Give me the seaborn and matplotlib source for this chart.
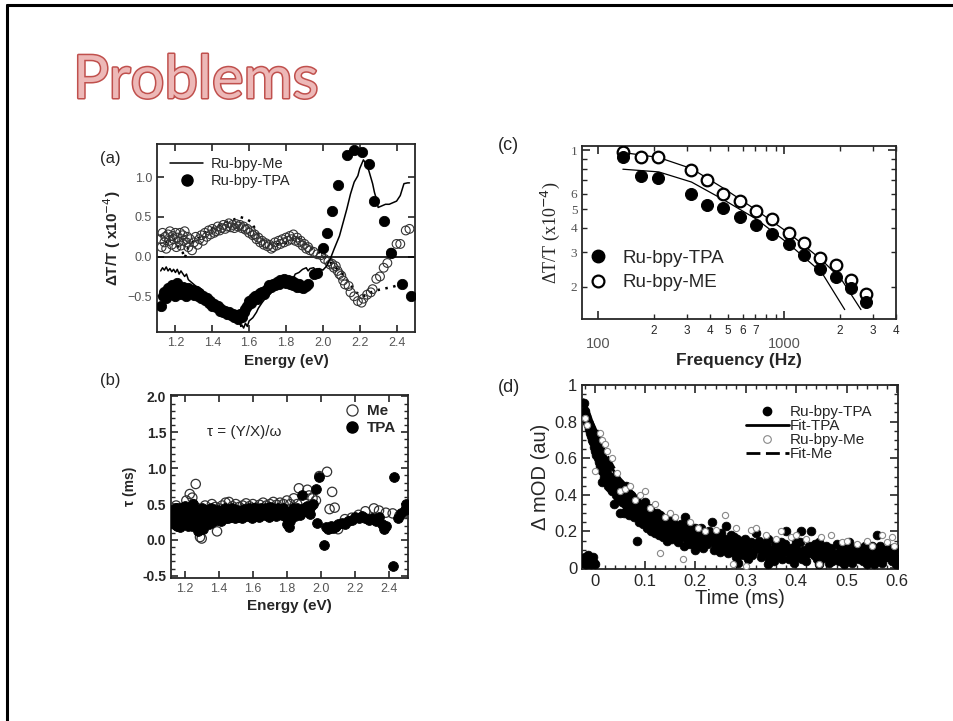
import pandas as pd
import seaborn as sns
import matplotlib.pyplot as plt
import matplotlib.patheffects as pe
from matplotlib.lines import Line2D

# ---------------- datos ----------------

# (a) espectro dT/T
a_me_line = [(1.12, -0.18), (1.13, -0.14), (1.14, -0.17), (1.15, -0.13), (1.16, -0.18), (1.17, -0.15),
             (1.18, -0.19), (1.19, -0.16), (1.20, -0.20), (1.21, -0.16), (1.22, -0.22), (1.23, -0.18),
             (1.25, -0.25), (1.26, -0.22), (1.27, -0.29), (1.29, -0.33), (1.31, -0.37), (1.33, -0.39),
             (1.35, -0.43), (1.36, -0.48), (1.38, -0.52), (1.40, -0.53), (1.42, -0.56), (1.44, -0.60),
             (1.46, -0.65), (1.47, -0.68), (1.49, -0.71), (1.51, -0.75), (1.53, -0.79), (1.55, -0.84),
             (1.555, -0.88), (1.56, -0.86), (1.57, -0.90), (1.58, -0.84), (1.59, -0.88), (1.60, -0.81),
             (1.62, -0.77), (1.64, -0.70), (1.65, -0.65), (1.67, -0.58), (1.69, -0.52), (1.71, -0.48),
             (1.73, -0.43), (1.75, -0.39), (1.76, -0.37), (1.78, -0.33), (1.80, -0.31), (1.82, -0.29),
             (1.84, -0.27), (1.85, -0.22), (1.87, -0.20), (1.89, -0.16), (1.91, -0.14), (1.92, -0.18),
             (1.93, -0.15), (1.95, -0.14), (1.96, -0.17), (1.98, -0.15), (2.00, -0.17), (2.02, -0.12),
             (2.04, -0.03), (2.06, 0.09), (2.09, 0.26), (2.11, 0.43), (2.13, 0.60), (2.15, 0.79),
             (2.17, 0.94), (2.19, 1.02), (2.20, 1.11), (2.22, 1.22), (2.24, 1.15), (2.25, 1.08),
             (2.26, 1.00), (2.27, 0.92), (2.28, 0.81), (2.29, 0.73), (2.30, 0.62), (2.32, 0.64),
             (2.34, 0.66), (2.36, 0.66), (2.38, 0.68), (2.40, 0.70), (2.42, 0.77), (2.44, 0.92),
             (2.46, 0.93), (2.47, 0.93)]

a_tpa_pts = [(1.12, -0.62), (1.13, -0.50), (1.14, -0.44), (1.15, -0.52), (1.16, -0.40), (1.17, -0.47),
             (1.18, -0.36), (1.19, -0.44), (1.20, -0.50), (1.21, -0.33), (1.22, -0.42), (1.23, -0.47),
             (1.24, -0.38), (1.25, -0.45), (1.26, -0.50), (1.27, -0.40), (1.28, -0.46), (1.29, -0.42),
             (1.30, -0.48), (1.31, -0.43), (1.32, -0.50), (1.33, -0.46), (1.34, -0.52), (1.35, -0.49),
             (1.36, -0.55), (1.37, -0.52), (1.38, -0.58), (1.39, -0.56), (1.40, -0.62), (1.41, -0.60),
             (1.42, -0.64), (1.43, -0.62), (1.44, -0.68), (1.45, -0.66), (1.46, -0.70), (1.47, -0.68),
             (1.48, -0.72), (1.49, -0.70), (1.50, -0.74), (1.51, -0.72), (1.52, -0.76), (1.53, -0.74),
             (1.54, -0.79), (1.55, -0.72), (1.56, -0.76), (1.57, -0.70), (1.58, -0.66), (1.59, -0.62),
             (1.60, -0.56), (1.61, -0.58), (1.62, -0.52), (1.63, -0.50), (1.64, -0.54), (1.65, -0.48),
             (1.66, -0.46), (1.67, -0.44), (1.68, -0.47), (1.69, -0.42), (1.70, -0.40), (1.71, -0.36),
             (1.72, -0.38), (1.73, -0.34), (1.74, -0.36), (1.75, -0.32), (1.76, -0.34), (1.77, -0.30),
             (1.78, -0.32), (1.79, -0.28), (1.80, -0.33), (1.81, -0.30), (1.82, -0.34), (1.83, -0.31),
             (1.84, -0.36), (1.85, -0.33), (1.86, -0.38), (1.87, -0.35), (1.88, -0.38), (1.89, -0.40),
             (1.91, -0.37), (1.92, -0.34), (1.95, -0.22), (1.97, -0.20), (2.00, 0.11), (2.02, 0.30),
             (2.05, 0.58), (2.08, 0.90), (2.13, 1.28), (2.17, 1.35), (2.21, 1.32), (2.25, 1.17),
             (2.28, 0.70), (2.33, 0.45), (2.37, 0.05), (2.43, -0.35), (2.48, -0.49)]

a_me_open = [(1.12, 0.22), (1.125, 0.12), (1.13, 0.30), (1.14, 0.18), (1.145, 0.25), (1.15, 0.10),
             (1.16, 0.28), (1.165, 0.20), (1.17, 0.32), (1.18, 0.15), (1.185, 0.26), (1.19, 0.22),
             (1.20, 0.30), (1.205, 0.12), (1.21, 0.24), (1.22, 0.19), (1.225, 0.30), (1.23, 0.14),
             (1.24, 0.27), (1.245, 0.20), (1.25, 0.32), (1.26, 0.18), (1.265, 0.25), (1.27, 0.12),
             (1.28, 0.22), (1.29, 0.08), (1.30, 0.18), (1.31, 0.25), (1.32, 0.15), (1.33, 0.22),
             (1.34, 0.27), (1.35, 0.20), (1.36, 0.30), (1.37, 0.25), (1.38, 0.33), (1.39, 0.28),
             (1.40, 0.35), (1.41, 0.30), (1.42, 0.32), (1.43, 0.38), (1.44, 0.33), (1.45, 0.36),
             (1.46, 0.40), (1.47, 0.35), (1.48, 0.38), (1.49, 0.42), (1.50, 0.37), (1.51, 0.40),
             (1.52, 0.36), (1.53, 0.41), (1.54, 0.38), (1.55, 0.40), (1.56, 0.36), (1.57, 0.38),
             (1.58, 0.34), (1.59, 0.35), (1.60, 0.30), (1.61, 0.32), (1.62, 0.27), (1.63, 0.28),
             (1.64, 0.22), (1.65, 0.24), (1.66, 0.18), (1.67, 0.20), (1.68, 0.15), (1.69, 0.17),
             (1.70, 0.13), (1.71, 0.15), (1.72, 0.10), (1.73, 0.12), (1.74, 0.18), (1.75, 0.14),
             (1.76, 0.20), (1.77, 0.16), (1.78, 0.22), (1.79, 0.18), (1.80, 0.24), (1.81, 0.20),
             (1.82, 0.26), (1.83, 0.22), (1.84, 0.28), (1.85, 0.20), (1.86, 0.24), (1.87, 0.18),
             (1.88, 0.20), (1.89, 0.14), (1.90, 0.16), (1.91, 0.10), (1.92, 0.12), (1.93, 0.08),
             (1.95, 0.06), (1.97, 0.03), (1.99, 0.02), (2.01, -0.03), (2.03, -0.06), (2.04, -0.10),
             (2.05, -0.09), (2.06, -0.14), (2.07, -0.12), (2.08, -0.18), (2.09, -0.22), (2.10, -0.24),
             (2.11, -0.30), (2.12, -0.35), (2.14, -0.37), (2.15, -0.45), (2.17, -0.50), (2.19, -0.56),
             (2.21, -0.58), (2.22, -0.53), (2.24, -0.48), (2.26, -0.45), (2.27, -0.41), (2.29, -0.28),
             (2.31, -0.25), (2.33, -0.14), (2.35, -0.08), (2.37, 0.05), (2.40, 0.16), (2.42, 0.16),
             (2.45, 0.33), (2.47, 0.35)]

a_tpa_dotted = [(1.12, 0.28), (1.14, 0.22), (1.16, 0.15), (1.18, 0.25), (1.20, 0.20), (1.22, 0.10),
                (1.24, 0.05), (1.25, -0.02), (1.27, 0.12), (1.30, 0.20), (1.33, 0.24), (1.36, 0.30),
                (1.40, 0.36), (1.44, 0.40), (1.48, 0.44), (1.52, 0.47), (1.55, 0.50), (1.58, 0.48),
                (1.61, 0.44), (1.64, 0.32), (1.67, 0.22), (1.70, 0.18), (1.74, 0.15), (1.78, 0.17),
                (1.82, 0.18), (1.86, 0.25), (1.90, 0.17), (1.94, 0.10), (1.98, 0.05), (2.02, -0.02),
                (2.06, -0.12), (2.10, -0.20), (2.14, -0.32), (2.18, -0.45), (2.22, -0.50), (2.26, -0.45),
                (2.30, -0.42), (2.34, -0.40), (2.38, -0.38), (2.42, -0.35), (2.45, -0.35)]

# (b) tau
b_tpa_pts = [(1.13, 0.35), (1.14, 0.22), (1.15, 0.45), (1.16, 0.30), (1.17, 0.18), (1.18, 0.40),
             (1.19, 0.28), (1.20, 0.48), (1.21, 0.35), (1.22, 0.20), (1.23, 0.42), (1.24, 0.30),
             (1.25, 0.50), (1.26, 0.38), (1.27, 0.25), (1.28, 0.12), (1.29, 0.20), (1.30, 0.45),
             (1.305, 0.15), (1.31, 0.32), (1.32, 0.22), (1.33, 0.40), (1.34, 0.30), (1.35, 0.38),
             (1.36, 0.25), (1.37, 0.42), (1.38, 0.33), (1.39, 0.28), (1.40, 0.38), (1.41, 0.30),
             (1.42, 0.40), (1.43, 0.35), (1.44, 0.30), (1.45, 0.42), (1.46, 0.36), (1.47, 0.32),
             (1.48, 0.40), (1.49, 0.35), (1.50, 0.38), (1.51, 0.42), (1.52, 0.34), (1.53, 0.40),
             (1.54, 0.36), (1.55, 0.43), (1.56, 0.38), (1.57, 0.33), (1.58, 0.40), (1.59, 0.36),
             (1.60, 0.44), (1.61, 0.38), (1.62, 0.34), (1.63, 0.41), (1.64, 0.37), (1.65, 0.45),
             (1.66, 0.40), (1.67, 0.35), (1.68, 0.42), (1.69, 0.38), (1.70, 0.46), (1.71, 0.40),
             (1.72, 0.36), (1.73, 0.43), (1.74, 0.38), (1.75, 0.45), (1.76, 0.40), (1.77, 0.35),
             (1.78, 0.42), (1.79, 0.38), (1.80, 0.22), (1.81, 0.18), (1.82, 0.30), (1.83, 0.36),
             (1.84, 0.40), (1.85, 0.34), (1.86, 0.45), (1.87, 0.40), (1.89, 0.63), (1.88, 0.38),
             (1.90, 0.45), (1.91, 0.40), (1.92, 0.46), (1.93, 0.42), (1.94, 0.48), (1.95, 0.50),
             (1.97, 0.71), (1.975, 0.24), (1.99, 0.88), (2.02, -0.07), (2.03, 0.18), (2.04, 0.15),
             (2.05, 0.17), (2.06, 0.20), (2.07, 0.16), (2.08, 0.18), (2.09, 0.20), (2.10, 0.22),
             (2.12, 0.24), (2.14, 0.22), (2.16, 0.26), (2.18, 0.28), (2.20, 0.32), (2.22, 0.30),
             (2.24, 0.33), (2.26, 0.30), (2.28, 0.28), (2.30, 0.30), (2.32, 0.27), (2.34, 0.32),
             (2.36, 0.22), (2.37, 0.15), (2.38, 0.20), (2.42, -0.36), (2.43, 0.88), (2.45, 0.30),
             (2.47, 0.38), (2.49, 0.42), (2.50, 0.50),
             (1.125, 0.42), (1.135, 0.28), (1.145, 0.38), (1.155, 0.20), (1.165, 0.44), (1.175, 0.33),
             (1.185, 0.25), (1.195, 0.40), (1.205, 0.22), (1.215, 0.45), (1.225, 0.30), (1.235, 0.38),
             (1.245, 0.20), (1.255, 0.33), (1.265, 0.42), (1.275, 0.30), (1.285, 0.38), (1.295, 0.28),
             (1.315, 0.42), (1.325, 0.27), (1.345, 0.22), (1.355, 0.44), (1.375, 0.28), (1.395, 0.42),
             (1.415, 0.26), (1.435, 0.45), (1.455, 0.30), (1.475, 0.44), (1.495, 0.30), (1.515, 0.32),
             (1.535, 0.30), (1.555, 0.33), (1.575, 0.44), (1.595, 0.30), (1.615, 0.45), (1.635, 0.32),
             (1.655, 0.36), (1.675, 0.44), (1.695, 0.32), (1.715, 0.44), (1.735, 0.34), (1.755, 0.36),
             (1.775, 0.45), (1.795, 0.32), (1.815, 0.26), (1.835, 0.44), (1.855, 0.40), (1.875, 0.35),
             (1.895, 0.40), (1.915, 0.47), (1.935, 0.36)]

b_me_pts = [(1.13, 0.38), (1.15, 0.48), (1.16, 0.19), (1.17, 0.30), (1.19, 0.45), (1.21, 0.55),
            (1.23, 0.64), (1.245, 0.59), (1.25, 0.50), (1.265, 0.78), (1.27, 0.45), (1.29, 0.04),
            (1.30, 0.02), (1.32, 0.48), (1.34, 0.42), (1.36, 0.50), (1.38, 0.46), (1.39, 0.12),
            (1.40, 0.44), (1.42, 0.48), (1.44, 0.52), (1.46, 0.53), (1.48, 0.47), (1.50, 0.50),
            (1.52, 0.46), (1.54, 0.48), (1.56, 0.51), (1.58, 0.47), (1.60, 0.50), (1.62, 0.45),
            (1.64, 0.49), (1.66, 0.52), (1.68, 0.48), (1.70, 0.50), (1.72, 0.53), (1.74, 0.49),
            (1.76, 0.52), (1.78, 0.50), (1.80, 0.55), (1.82, 0.50), (1.84, 0.58), (1.86, 0.50),
            (1.87, 0.72), (1.92, 0.70), (1.93, 0.62), (1.95, 0.58), (1.97, 0.55), (1.99, 0.89),
            (2.035, 0.95), (2.05, 0.43), (2.065, 0.67), (2.08, 0.45), (2.10, 0.15), (2.14, 0.29),
            (2.18, 0.31), (2.22, 0.35), (2.26, 0.40), (2.31, 0.44), (2.34, 0.41), (2.38, 0.38),
            (2.42, 0.37), (2.46, 0.34), (2.48, 0.36), (2.50, 0.44)]

# (c) dT/T vs frecuencia
c_freq = [137, 171, 210, 318, 385, 472, 578, 707, 865, 1059, 1280, 1566, 1902, 2280, 2760]
c_tpa = [0.925, 0.738, 0.724, 0.600, 0.522, 0.504, 0.455, 0.414, 0.374, 0.332, 0.290, 0.247, 0.225, 0.198, 0.167]
c_me = [0.980, 0.925, 0.925, 0.790, 0.700, 0.600, 0.547, 0.489, 0.443, 0.378, 0.336, 0.282, 0.260, 0.216, 0.183]
c_fit_me_freq = [136, 212, 318, 476, 713, 1067, 1599, 2037, 2592]
c_fit_me = [0.973, 0.917, 0.805, 0.636, 0.492, 0.375, 0.274, 0.218, 0.153]
c_fit_tpa_freq = [136, 212, 318, 476, 713, 1067, 1599, 2120]
c_fit_tpa = [0.799, 0.774, 0.687, 0.556, 0.443, 0.330, 0.236, 0.153]

# (d) decaimiento
d_tpa_pts = [(-0.022, 0.03), (-0.020, 0.06), (-0.018, 0.02), (-0.016, 0.04), (-0.014, 0.07), (-0.012, 0.03),
             (-0.010, 0.05), (-0.008, 0.02), (-0.006, 0.04), (-0.004, 0.06), (-0.002, 0.03), (0.000, 0.02),
             (-0.021, 0.90), (-0.019, 0.86), (-0.017, 0.83), (-0.015, 0.80), (-0.013, 0.78), (-0.011, 0.76),
             (-0.009, 0.74), (-0.007, 0.72), (-0.005, 0.70), (-0.003, 0.69), (-0.001, 0.66), (0.001, 0.64),
             (0.003, 0.62), (0.005, 0.73), (0.006, 0.60), (0.008, 0.58), (0.010, 0.56), (0.012, 0.60),
             (0.014, 0.53), (0.015, 0.47), (0.016, 0.55), (0.018, 0.50), (0.020, 0.52), (0.022, 0.47),
             (0.024, 0.49), (0.026, 0.45), (0.028, 0.50), (0.030, 0.44), (0.032, 0.46), (0.034, 0.42),
             (0.036, 0.47), (0.038, 0.35), (0.040, 0.43), (0.042, 0.40), (0.044, 0.45), (0.046, 0.38),
             (0.048, 0.42), (0.050, 0.30), (0.052, 0.40), (0.054, 0.36), (0.056, 0.44), (0.058, 0.30),
             (0.060, 0.38), (0.062, 0.45), (0.064, 0.33), (0.066, 0.37), (0.068, 0.29), (0.070, 0.35),
             (0.072, 0.40), (0.074, 0.31), (0.076, 0.36), (0.078, 0.28), (0.080, 0.33), (0.082, 0.38),
             (0.084, 0.15), (0.086, 0.30), (0.088, 0.25), (0.090, 0.34), (0.092, 0.28), (0.094, 0.31),
             (0.096, 0.24), (0.098, 0.29), (0.100, 0.36), (0.102, 0.27), (0.104, 0.22), (0.106, 0.30),
             (0.108, 0.25), (0.110, 0.28), (0.112, 0.20), (0.114, 0.26), (0.116, 0.30), (0.118, 0.23),
             (0.120, 0.19), (0.122, 0.27), (0.124, 0.22), (0.126, 0.28), (0.128, 0.18), (0.130, 0.24),
             (0.132, 0.20), (0.134, 0.26), (0.136, 0.17), (0.138, 0.23), (0.140, 0.21), (0.142, 0.25),
             (0.144, 0.15), (0.146, 0.22), (0.148, 0.19), (0.150, 0.24), (0.153, 0.16), (0.156, 0.21),
             (0.159, 0.18), (0.162, 0.23), (0.165, 0.14), (0.168, 0.20), (0.171, 0.17), (0.174, 0.22),
             (0.177, 0.12), (0.180, 0.28), (0.183, 0.16), (0.186, 0.19), (0.189, 0.13), (0.192, 0.21),
             (0.195, 0.15), (0.198, 0.18), (0.200, 0.10), (0.204, 0.20), (0.208, 0.14), (0.212, 0.17),
             (0.216, 0.11), (0.220, 0.19), (0.224, 0.13), (0.228, 0.16), (0.232, 0.25), (0.236, 0.10),
             (0.240, 0.15), (0.244, 0.18), (0.248, 0.09), (0.252, 0.14), (0.256, 0.12), (0.260, 0.23),
             (0.264, 0.08), (0.268, 0.15), (0.272, 0.11), (0.276, 0.17), (0.280, 0.06), (0.284, 0.13),
             (0.288, 0.10), (0.292, 0.15), (0.296, 0.07), (0.300, 0.12), (0.305, 0.05), (0.310, 0.14),
             (0.315, 0.09), (0.320, 0.19), (0.325, 0.11), (0.330, 0.06), (0.335, 0.13), (0.340, 0.08),
             (0.345, 0.16), (0.350, 0.10), (0.355, 0.04), (0.360, 0.12), (0.365, 0.07), (0.370, 0.14),
             (0.375, 0.09), (0.380, 0.20), (0.385, 0.05), (0.390, 0.11), (0.395, 0.08), (0.400, 0.15),
             (0.405, 0.06), (0.410, 0.20), (0.415, 0.10), (0.420, 0.04), (0.425, 0.12), (0.430, 0.20),
             (0.435, 0.07), (0.440, 0.10), (0.445, 0.14), (0.450, 0.05), (0.455, 0.09), (0.460, 0.12),
             (0.465, 0.03), (0.470, 0.10), (0.475, 0.07), (0.480, 0.13), (0.485, 0.04), (0.490, 0.09),
             (0.495, 0.11), (0.500, 0.06), (0.505, 0.14), (0.510, 0.03), (0.515, 0.08), (0.520, 0.12),
             (0.525, 0.05), (0.530, 0.10), (0.535, 0.07), (0.540, 0.02), (0.545, 0.09), (0.550, 0.12),
             (0.555, 0.05), (0.560, 0.18), (0.565, 0.08), (0.570, 0.03), (0.575, 0.10), (0.580, 0.06),
             (0.585, 0.11), (0.590, 0.04), (0.595, 0.08), (0.600, 0.05),
             (0.011, 0.64), (0.019, 0.58), (0.027, 0.55), (0.035, 0.50), (0.043, 0.48), (0.051, 0.46),
             (0.059, 0.42), (0.067, 0.41), (0.075, 0.38), (0.083, 0.35), (0.091, 0.32), (0.099, 0.31),
             (0.107, 0.33), (0.115, 0.22), (0.123, 0.30), (0.131, 0.28), (0.139, 0.19), (0.147, 0.27),
             (0.155, 0.25), (0.163, 0.19), (0.171, 0.24), (0.179, 0.18), (0.187, 0.24), (0.195, 0.20),
             (0.203, 0.16), (0.211, 0.22), (0.219, 0.15), (0.227, 0.20), (0.235, 0.16), (0.243, 0.13),
             (0.251, 0.19), (0.259, 0.16), (0.267, 0.12), (0.275, 0.09), (0.283, 0.16), (0.291, 0.12),
             (0.299, 0.16), (0.307, 0.09), (0.317, 0.13), (0.327, 0.15), (0.337, 0.10), (0.347, 0.05),
             (0.357, 0.14), (0.367, 0.10), (0.377, 0.13), (0.387, 0.09), (0.397, 0.12), (0.407, 0.14),
             (0.417, 0.07), (0.427, 0.09), (0.437, 0.13), (0.447, 0.08), (0.457, 0.06), (0.467, 0.11),
             (0.477, 0.05), (0.487, 0.12), (0.497, 0.08), (0.507, 0.05), (0.517, 0.11), (0.527, 0.09),
             (0.537, 0.12), (0.547, 0.05), (0.557, 0.10), (0.567, 0.12), (0.577, 0.06), (0.587, 0.09),
             (0.597, 0.11), (0.598, 0.02), (0.555, 0.02), (0.495, 0.02), (0.445, 0.02), (0.395, 0.03),
             (0.345, 0.02), (0.285, 0.03),
             (0.004, 0.70), (0.007, 0.66), (0.009, 0.62), (0.013, 0.58), (0.017, 0.57), (0.021, 0.55),
             (0.025, 0.52), (0.029, 0.47), (0.033, 0.49), (0.037, 0.44), (0.041, 0.47), (0.045, 0.41),
             (0.049, 0.44), (0.053, 0.38), (0.057, 0.41), (0.061, 0.35), (0.065, 0.40), (0.069, 0.33),
             (0.073, 0.37), (0.077, 0.32), (0.081, 0.30), (0.085, 0.36), (0.089, 0.31), (0.093, 0.26),
             (0.097, 0.33), (0.101, 0.24), (0.105, 0.28), (0.109, 0.32), (0.113, 0.24), (0.117, 0.27),
             (0.121, 0.22), (0.125, 0.25), (0.129, 0.29), (0.133, 0.23), (0.137, 0.26), (0.141, 0.18),
             (0.145, 0.24), (0.149, 0.21), (0.152, 0.27), (0.158, 0.20), (0.164, 0.17), (0.170, 0.22),
             (0.176, 0.18), (0.182, 0.22), (0.188, 0.16), (0.194, 0.19), (0.200, 0.22), (0.206, 0.12),
             (0.214, 0.18), (0.222, 0.14), (0.230, 0.19), (0.238, 0.13), (0.246, 0.16), (0.254, 0.10),
             (0.262, 0.13), (0.270, 0.18), (0.278, 0.10), (0.286, 0.07), (0.294, 0.12), (0.302, 0.10),
             (0.312, 0.07), (0.322, 0.13), (0.332, 0.09), (0.342, 0.12), (0.352, 0.07), (0.362, 0.09),
             (0.372, 0.05), (0.382, 0.10), (0.392, 0.06), (0.402, 0.10), (0.412, 0.05), (0.422, 0.08),
             (0.432, 0.11), (0.442, 0.05), (0.452, 0.11), (0.462, 0.07), (0.472, 0.04), (0.482, 0.08),
             (0.492, 0.05), (0.502, 0.10), (0.512, 0.06), (0.522, 0.09), (0.532, 0.04), (0.542, 0.07),
             (0.552, 0.08), (0.562, 0.04), (0.572, 0.07), (0.582, 0.09), (0.592, 0.06)]

d_me_pts = [(-0.020, 0.82), (-0.015, 0.78), (0.000, 0.53), (0.010, 0.74), (0.015, 0.70), (0.020, 0.68),
            (0.025, 0.64), (0.035, 0.60), (0.045, 0.52), (0.050, 0.42), (0.060, 0.43), (0.070, 0.45),
            (0.080, 0.37), (0.090, 0.40), (0.100, 0.42), (0.110, 0.33), (0.120, 0.35), (0.130, 0.08),
            (0.140, 0.28), (0.150, 0.30), (0.160, 0.28), (0.175, 0.05), (0.190, 0.25), (0.205, 0.22),
            (0.220, 0.20), (0.240, 0.21), (0.258, 0.29), (0.275, 0.02), (0.280, 0.22), (0.300, 0.01),
            (0.310, 0.21), (0.320, 0.22), (0.340, 0.18), (0.360, 0.16), (0.370, 0.20), (0.390, 0.17),
            (0.400, 0.18), (0.420, 0.16), (0.445, 0.02), (0.450, 0.17), (0.470, 0.18), (0.490, 0.14),
            (0.500, 0.15), (0.520, 0.13), (0.540, 0.15), (0.550, 0.12), (0.570, 0.18), (0.580, 0.14),
            (0.590, 0.17), (0.595, 0.12)]

d_fit_t = [-0.022, -0.01, 0.0, 0.02, 0.05, 0.10, 0.15, 0.20, 0.30, 0.40, 0.50, 0.60]
d_fit_tpa = [0.92, 0.84, 0.76, 0.62, 0.47, 0.32, 0.23, 0.17, 0.10, 0.07, 0.055, 0.045]
d_fit_me = [0.90, 0.83, 0.77, 0.64, 0.49, 0.34, 0.25, 0.19, 0.12, 0.085, 0.065, 0.055]

# ---------------- estilo ----------------
sns.set_style("ticks")
plt.rcParams['font.family'] = ['Liberation Sans', 'DejaVu Sans']
plt.rcParams['mathtext.fontset'] = 'dejavusans'
plt.rcParams['xtick.direction'] = 'in'
plt.rcParams['ytick.direction'] = 'in'
plt.rcParams['axes.linewidth'] = 1.3

fig = plt.figure(figsize=(9.54, 7.21), dpi=100)
W, H = 954, 721


def box(l, t, r, b):
    return [l / W, 1 - b / H, (r - l) / W, (b - t) / H]


def todf(pts):
    return pd.DataFrame(pts, columns=["x", "y"])


# marco de la diapositiva
fig.add_artist(Line2D([7 / W, 7 / W], [0, 1 - 5 / H], color="black", lw=2.2))
fig.add_artist(Line2D([7 / W, 1], [1 - 5 / H, 1 - 5 / H], color="black", lw=2.2))

# titulo
fig.text(73 / W, 1 - 81 / H, "Problems", fontsize=43, family="Lato", color="#EDB8B7",
         va="center", ha="left",
         path_effects=[pe.Stroke(linewidth=2.2, foreground="#C0504D"), pe.Normal()])

gray = "#555555"

# ---------- (a) ----------
axa = fig.add_axes(box(157, 144, 415, 332))
axa.axhline(0, color="black", lw=1.2, zorder=1)
da = todf(a_tpa_dotted)
axa.plot(da["x"], da["y"], color="black", lw=1.8, ls=(0, (1, 2.2)), zorder=2)
sns.scatterplot(data=todf(a_me_open), x="x", y="y", ax=axa, marker="o", s=40,
                facecolor="none", edgecolor="#333333", linewidth=0.8, zorder=3)
sns.lineplot(data=todf(a_me_line), x="x", y="y", ax=axa, color="black", lw=1.1,
             sort=False, estimator=None, zorder=4)
sns.scatterplot(data=todf(a_tpa_pts), x="x", y="y", ax=axa, marker="o", s=55,
                color="black", edgecolor="black", zorder=5)
axa.set_xlim(1.1, 2.5)
axa.set_ylim(-0.95, 1.42)
axa.set_xticks([1.2, 1.4, 1.6, 1.8, 2.0, 2.2, 2.4])
axa.set_yticks([-0.5, 0.0, 0.5, 1.0])
axa.tick_params(top=True, right=True, length=5, width=1.2, labelsize=9, labelcolor=gray)
axa.set_xlabel("Energy (eV)", fontsize=11, fontweight="bold", labelpad=4)
axa.set_ylabel(r"ΔT/T ( x10$^{-4}$)", fontsize=11, fontweight="bold", labelpad=3)
ha = [Line2D([], [], color="black", lw=1.1),
      Line2D([], [], color="black", marker="o", ls="none", markersize=8)]
axa.legend(ha, ["Ru-bpy-Me", "Ru-bpy-TPA"], loc="upper left", bbox_to_anchor=(0.05, 0.93),
           frameon=False, fontsize=10.5, handlelength=2.3, handletextpad=0.5,
           labelspacing=0.2, borderaxespad=0, borderpad=0)
fig.text(100 / W, 1 - 158 / H, "(a)", fontsize=12, va="center")

# ---------- (b) ----------
axb = fig.add_axes(box(171, 395, 408, 578))
sns.scatterplot(data=todf(b_me_pts), x="x", y="y", ax=axb, marker="o", s=45,
                facecolor="none", edgecolor="#333333", linewidth=0.9, zorder=3)
sns.scatterplot(data=todf(b_tpa_pts), x="x", y="y", ax=axb, marker="o", s=50,
                color="black", edgecolor="black", zorder=4)
axb.set_xlim(1.12, 2.51)
axb.set_ylim(-0.53, 2.02)
axb.set_xticks([1.2, 1.4, 1.6, 1.8, 2.0, 2.2, 2.4])
axb.set_yticks([-0.5, 0.0, 0.5, 1.0, 1.5, 2.0])
axb.set_yticks([v / 10 for v in range(-5, 21)], minor=True)
axb.set_yticklabels(["-0.5", "0.0", "0.5", "1.0", "1.5", "2.0"], fontweight="bold")
axb.tick_params(top=True, right=True, length=5, width=1.2, labelsize=10)
axb.tick_params(axis="y", which="minor", left=True, right=True, length=3, width=1)
axb.tick_params(axis="x", labelcolor=gray, labelsize=9)
axb.set_xlabel("Energy (eV)", fontsize=11, fontweight="bold", labelpad=3)
axb.set_ylabel("τ (ms)", fontsize=10, fontweight="bold", labelpad=4)
axb.text(0.15, 0.8, "τ = (Y/X)/ω", transform=axb.transAxes, fontsize=11, va="center")
hb = [Line2D([], [], color="#333333", marker="o", mfc="none", ls="none", markersize=8, mew=0.9),
      Line2D([], [], color="black", marker="o", ls="none", markersize=8)]
axb.legend(hb, ["Me", "TPA"], loc="upper right", bbox_to_anchor=(0.95, 0.95), frameon=False,
           prop={"size": 11, "weight": "bold"}, handlelength=1, handletextpad=0.5,
           labelspacing=0.2, borderaxespad=0, borderpad=0)
fig.text(100 / W, 1 - 381 / H, "(b)", fontsize=12, va="center")

# ---------- (c) ----------
axc = fig.add_axes(box(582, 146, 896, 319))
sns.lineplot(x=c_fit_me_freq, y=c_fit_me, ax=axc, color="black", lw=0.9, sort=False, estimator=None)
sns.lineplot(x=c_fit_tpa_freq, y=c_fit_tpa, ax=axc, color="black", lw=0.9, sort=False, estimator=None)
sns.scatterplot(x=c_freq, y=c_me, ax=axc, marker="o", s=70, facecolor="white",
                edgecolor="black", linewidth=1.6, zorder=3)
sns.scatterplot(x=c_freq, y=c_tpa, ax=axc, marker="o", s=75, color="black",
                edgecolor="black", zorder=4)
axc.set_xscale("log")
axc.set_yscale("log")
axc.set_xlim(82, 4000)
axc.set_ylim(0.137, 1.05)
axc.set_xticks([100, 1000])
axc.set_xticklabels(["100", "1000"])
axc.set_xticks([200, 300, 400, 500, 600, 700, 800, 900, 2000, 3000, 4000], minor=True)
axc.set_xticklabels(["2", "3", "4", "5", "6", "7", "", "", "2", "3", "4"], minor=True)
axc.set_yticks([1])
axc.set_yticklabels(["1"], family="Liberation Serif")
axc.set_yticks([0.2, 0.3, 0.4, 0.5, 0.6, 0.7, 0.8, 0.9], minor=True)
axc.set_yticklabels(["2", "3", "4", "5", "6", "", "", ""], minor=True, family="Liberation Serif")
axc.tick_params(top=True, right=True, which="major", length=6, width=1.2)
axc.tick_params(top=True, right=True, which="minor", length=3.5, width=1)
axc.tick_params(axis="x", which="major", pad=13, labelsize=10.5, labelcolor=gray)
axc.tick_params(axis="x", which="minor", pad=4, labelsize=8.5)
axc.tick_params(axis="y", which="both", labelsize=9.5, labelcolor=gray)
axc.set_xlabel("Frequency (Hz)", fontsize=12.5, fontweight="bold", labelpad=1.5)
axc.set_ylabel(r"ΔT/T (x10$^{-4}$)", fontsize=13, family="Liberation Serif", labelpad=6)
hc = [Line2D([], [], color="black", marker="o", ls="none", markersize=9),
      Line2D([], [], color="black", marker="o", mfc="white", ls="none", markersize=8.5, mew=1.6)]
axc.legend(hc, ["Ru-bpy-TPA", "Ru-bpy-ME"], loc="lower left", bbox_to_anchor=(0.02, 0.16),
           frameon=False, fontsize=13.5, handlelength=1, handletextpad=0.8,
           labelspacing=0.4, borderaxespad=0, borderpad=0)
fig.text(498 / W, 1 - 146 / H, "(c)", fontsize=13, va="center")

# ---------- (d) ----------
axd = fig.add_axes(box(582, 385, 898, 569))
axd.plot(d_fit_t, d_fit_me, color="black", lw=2, ls=(0, (5, 2)), zorder=1)
sns.lineplot(x=d_fit_t, y=d_fit_tpa, ax=axd, color="black", lw=2, sort=False, estimator=None, zorder=2)
sns.scatterplot(data=todf(d_tpa_pts), x="x", y="y", ax=axd, marker="o", s=40,
                color="black", edgecolor="black", zorder=3)
sns.scatterplot(data=todf(d_me_pts), x="x", y="y", ax=axd, marker="o", s=20,
                facecolor="white", edgecolor="#888888", linewidth=0.8, zorder=4)
axd.set_xlim(-0.025, 0.602)
axd.set_ylim(-0.005, 1.0)
axd.set_xticks([0, 0.1, 0.2, 0.3, 0.4, 0.5, 0.6])
axd.set_xticklabels(["0", "0.1", "0.2", "0.3", "0.4", "0.5", "0.6"])
axd.set_xticks([v / 50 for v in range(-1, 31)], minor=True)
axd.set_yticks([0, 0.2, 0.4, 0.6, 0.8, 1.0])
axd.set_yticklabels(["0", "0.2", "0.4", "0.6", "0.8", "1"])
axd.set_yticks([v / 20 for v in range(0, 21)], minor=True)
axd.tick_params(top=True, right=True, which="major", length=6, width=1.2, labelsize=12)
axd.tick_params(top=True, right=True, which="minor", length=3, width=1)
axd.set_xlabel("Time (ms)", fontsize=14.5, labelpad=0)
axd.set_ylabel("Δ mOD (au)", fontsize=14.5, labelpad=3)
hd = [Line2D([], [], color="black", marker="o", ls="none", markersize=6),
      Line2D([], [], color="black", lw=2),
      Line2D([], [], color="#888888", marker="o", mfc="white", ls="none", markersize=5.5, mew=0.8),
      Line2D([], [], color="black", lw=2, ls=(0, (5, 2)))]
axd.legend(hd, ["Ru-bpy-TPA", "Fit-TPA", "Ru-bpy-Me", "Fit-Me"], loc="upper right",
           bbox_to_anchor=(0.92, 0.89), frameon=False, fontsize=11, handlelength=2.8,
           handletextpad=0.1, labelspacing=0.0, borderaxespad=0, borderpad=0)
fig.text(498 / W, 1 - 388 / H, "(d)", fontsize=13, va="center")

fig.savefig("out.png", dpi=100, facecolor="white")
